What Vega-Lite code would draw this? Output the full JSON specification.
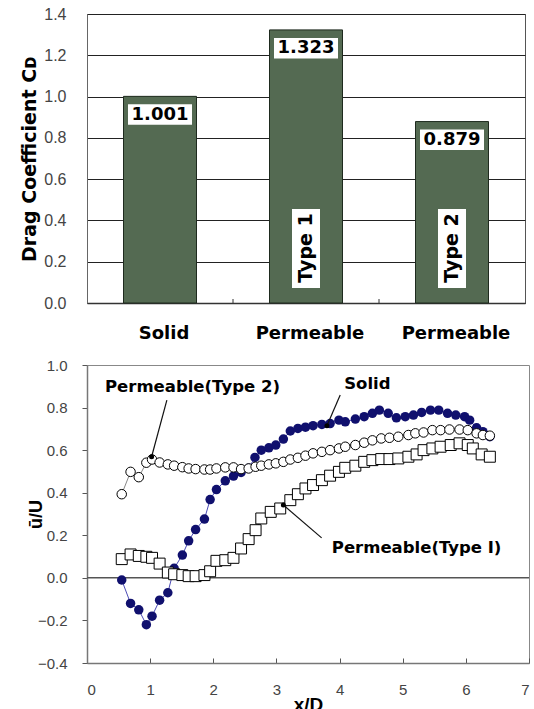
{
  "$schema": "https://vega.github.io/schema/vega-lite/v6.json",
  "padding": {"left": 20, "top": 5, "right": 0, "bottom": 0},
  "background": "white",
  "config": {"font": "Liberation Sans"},
  "spacing": 14,
  "datasets": {
    "bars": [
      {"cat": "Solid", "value": 1.001, "label": "1.001", "type": null},
      {"cat": "Permeable 1", "value": 1.323, "label": "1.323", "type": "Type 1"},
      {"cat": "Permeable 2", "value": 0.879, "label": "0.879", "type": "Type 2"}
    ],
    "solid": [
      {"x": 0.55, "y": -0.01}, {"x": 0.69, "y": -0.12}, {"x": 0.82, "y": -0.15}, {"x": 0.94, "y": -0.22},
      {"x": 1.03, "y": -0.18}, {"x": 1.15, "y": -0.105}, {"x": 1.28, "y": -0.07}, {"x": 1.38, "y": 0.045},
      {"x": 1.51, "y": 0.107}, {"x": 1.61, "y": 0.174}, {"x": 1.72, "y": 0.227}, {"x": 1.86, "y": 0.276},
      {"x": 1.95, "y": 0.368}, {"x": 2.05, "y": 0.415}, {"x": 2.19, "y": 0.456}, {"x": 2.32, "y": 0.478},
      {"x": 2.44, "y": 0.495}, {"x": 2.56, "y": 0.515}, {"x": 2.66, "y": 0.566}, {"x": 2.76, "y": 0.6},
      {"x": 2.88, "y": 0.611}, {"x": 2.99, "y": 0.624}, {"x": 3.11, "y": 0.652}, {"x": 3.22, "y": 0.69},
      {"x": 3.34, "y": 0.702}, {"x": 3.46, "y": 0.708}, {"x": 3.58, "y": 0.715}, {"x": 3.72, "y": 0.721},
      {"x": 3.85, "y": 0.725}, {"x": 3.99, "y": 0.741}, {"x": 4.09, "y": 0.733}, {"x": 4.25, "y": 0.746},
      {"x": 4.39, "y": 0.757}, {"x": 4.52, "y": 0.773}, {"x": 4.63, "y": 0.788}, {"x": 4.77, "y": 0.773},
      {"x": 4.9, "y": 0.752}, {"x": 5.04, "y": 0.757}, {"x": 5.17, "y": 0.765}, {"x": 5.3, "y": 0.777},
      {"x": 5.44, "y": 0.788}, {"x": 5.57, "y": 0.788}, {"x": 5.71, "y": 0.773}, {"x": 5.84, "y": 0.765},
      {"x": 5.98, "y": 0.757}, {"x": 6.06, "y": 0.741}, {"x": 6.17, "y": 0.705}, {"x": 6.27, "y": 0.687},
      {"x": 6.38, "y": 0.663}
    ],
    "type1": [
      {"x": 0.55, "y": 0.088}, {"x": 0.69, "y": 0.11}, {"x": 0.82, "y": 0.103}, {"x": 0.94, "y": 0.099},
      {"x": 1.03, "y": 0.094}, {"x": 1.15, "y": 0.067}, {"x": 1.28, "y": 0.025}, {"x": 1.38, "y": 0.017},
      {"x": 1.51, "y": 0.013}, {"x": 1.61, "y": 0.008}, {"x": 1.72, "y": 0.008}, {"x": 1.86, "y": 0.013},
      {"x": 1.95, "y": 0.031}, {"x": 2.05, "y": 0.08}, {"x": 2.19, "y": 0.083}, {"x": 2.32, "y": 0.094},
      {"x": 2.44, "y": 0.138}, {"x": 2.56, "y": 0.182}, {"x": 2.67, "y": 0.224}, {"x": 2.76, "y": 0.279},
      {"x": 2.91, "y": 0.31}, {"x": 3.06, "y": 0.326}, {"x": 3.22, "y": 0.365}, {"x": 3.34, "y": 0.393},
      {"x": 3.46, "y": 0.42}, {"x": 3.58, "y": 0.436}, {"x": 3.72, "y": 0.459}, {"x": 3.85, "y": 0.48},
      {"x": 3.99, "y": 0.498}, {"x": 4.09, "y": 0.517}, {"x": 4.25, "y": 0.527}, {"x": 4.39, "y": 0.545},
      {"x": 4.52, "y": 0.553}, {"x": 4.66, "y": 0.558}, {"x": 4.79, "y": 0.558}, {"x": 4.93, "y": 0.561},
      {"x": 5.09, "y": 0.569}, {"x": 5.22, "y": 0.58}, {"x": 5.33, "y": 0.6}, {"x": 5.47, "y": 0.608},
      {"x": 5.6, "y": 0.616}, {"x": 5.76, "y": 0.624}, {"x": 5.9, "y": 0.632}, {"x": 6.03, "y": 0.624},
      {"x": 6.11, "y": 0.608}, {"x": 6.25, "y": 0.58}, {"x": 6.38, "y": 0.569}
    ],
    "type2": [
      {"x": 0.55, "y": 0.393}, {"x": 0.69, "y": 0.498}, {"x": 0.82, "y": 0.473}, {"x": 0.94, "y": 0.541},
      {"x": 1.03, "y": 0.556}, {"x": 1.15, "y": 0.542}, {"x": 1.28, "y": 0.533}, {"x": 1.38, "y": 0.527},
      {"x": 1.51, "y": 0.52}, {"x": 1.61, "y": 0.514}, {"x": 1.72, "y": 0.511}, {"x": 1.86, "y": 0.509},
      {"x": 1.95, "y": 0.509}, {"x": 2.05, "y": 0.514}, {"x": 2.19, "y": 0.519}, {"x": 2.32, "y": 0.519},
      {"x": 2.44, "y": 0.511}, {"x": 2.56, "y": 0.514}, {"x": 2.67, "y": 0.522}, {"x": 2.76, "y": 0.527},
      {"x": 2.88, "y": 0.533}, {"x": 2.99, "y": 0.538}, {"x": 3.11, "y": 0.545}, {"x": 3.22, "y": 0.556},
      {"x": 3.34, "y": 0.564}, {"x": 3.46, "y": 0.574}, {"x": 3.58, "y": 0.585}, {"x": 3.72, "y": 0.592},
      {"x": 3.85, "y": 0.6}, {"x": 3.99, "y": 0.608}, {"x": 4.09, "y": 0.616}, {"x": 4.25, "y": 0.624},
      {"x": 4.39, "y": 0.635}, {"x": 4.52, "y": 0.646}, {"x": 4.66, "y": 0.655}, {"x": 4.79, "y": 0.658},
      {"x": 4.93, "y": 0.663}, {"x": 5.09, "y": 0.671}, {"x": 5.2, "y": 0.679}, {"x": 5.33, "y": 0.683},
      {"x": 5.47, "y": 0.694}, {"x": 5.6, "y": 0.694}, {"x": 5.74, "y": 0.697}, {"x": 5.9, "y": 0.697},
      {"x": 6.03, "y": 0.694}, {"x": 6.17, "y": 0.679}, {"x": 6.27, "y": 0.671}, {"x": 6.38, "y": 0.668}
    ],
    "leaders": [
      {"x": 1.023, "y": 0.569, "x2": 1.265, "y2": 0.835},
      {"x": 3.8, "y": 0.715, "x2": 4.01, "y2": 0.859},
      {"x": 3.11, "y": 0.342, "x2": 3.716, "y2": 0.188}
    ],
    "notes": [
      {"x": 1.67, "y": 0.898, "text": "Permeable(Type 2)"},
      {"x": 4.44, "y": 0.912, "text": "Solid"},
      {"x": 5.22, "y": 0.138, "text": "Permeable(Type I)"}
    ],
    "zero": [{"x": 0, "x2": 7, "y": 0}]
  },
  "vconcat": [
    {
      "width": 438,
      "height": 289,
      "view": {"stroke": "#555", "strokeWidth": 1},
      "data": {"name": "bars"},
      "encoding": {
        "x": {
          "field": "cat", "type": "nominal", "sort": null, "title": null,
          "scale": {"paddingInner": 0.5, "paddingOuter": 0.25},
          "axis": {
            "labelAngle": 0,
            "labelExpr": "datum.value == 'Solid' ? 'Solid' : 'Permeable'",
            "labelFont": "DejaVu Sans", "labelFontWeight": "bold", "labelFontSize": 18,
            "labelColor": "#000", "labelPadding": 21, "labelOffset": 4,
            "ticks": false,
            "domainColor": "#333", "domainWidth": 1.5, "grid": false
          }
        },
        "y": {
          "field": "value", "type": "quantitative", "title": "Drag Coefficient Cᴅ",
          "scale": {"domain": [0, 1.4], "nice": false},
          "axis": {
            "values": [0, 0.2, 0.4, 0.6, 0.8, 1.0, 1.2, 1.4], "format": ".1f",
            "ticks": false, "labelPadding": 21, "labelFontSize": 16, "labelColor": "#444",
            "domainColor": "#666", "gridColor": "#222", "gridWidth": 1,
            "titleFont": "DejaVu Sans", "titleFontSize": 19, "titleFontWeight": "bold",
            "titleColor": "#000", "titlePadding": 4
          }
        }
      },
      "layer": [
        {"mark": {"type": "bar", "color": "#546a52", "stroke": "#1e2a1e", "strokeWidth": 1}},
        {"mark": {"type": "bar", "color": "white", "width": 64, "yOffset": 8, "y2Offset": 28.5},
         "encoding": {"y2": {"field": "value"}}},
        {"mark": {"type": "text", "font": "DejaVu Sans", "fontWeight": "bold", "fontSize": 18,
                  "color": "black", "baseline": "middle", "align": "center", "yOffset": 18.5},
         "encoding": {"text": {"field": "label"}}},
        {"transform": [{"filter": "isValid(datum.type)"}],
         "mark": {"type": "bar", "color": "white", "width": 28, "yOffset": -15, "y2Offset": -94},
         "encoding": {"y": {"datum": 0}, "y2": {"datum": 0}}},
        {"transform": [{"filter": "isValid(datum.type)"}],
         "mark": {"type": "text", "angle": 270, "font": "DejaVu Sans", "fontWeight": "bold", "fontSize": 19,
                  "color": "black", "baseline": "middle", "align": "center", "yOffset": -55},
         "encoding": {"y": {"datum": 0}, "text": {"field": "type"}}},
        {"transform": [{"filter": "isValid(datum.type)"}],
         "mark": {"type": "rule", "color": "#333", "strokeWidth": 1, "y2Offset": -4},
         "encoding": {"x": {"field": "cat", "type": "nominal", "sort": null, "bandPosition": -0.5}, "y": {"datum": 0}, "y2": {"datum": 0}}}
      ]
    },
    {
      "width": 442,
      "height": 298,
      "view": {"stroke": "#888", "strokeWidth": 1},
      "encoding": {
        "x": {
          "field": "x", "type": "quantitative", "title": "x/D",
          "scale": {"domain": [0, 7], "nice": false},
          "axis": {
            "values": [0, 1, 2, 3, 4, 5, 6, 7], "format": "d", "grid": false,
            "tickSize": -5, "tickColor": "#555", "domainColor": "#777", "domainWidth": 1.5,
            "labelFontSize": 15, "labelColor": "#444", "labelPadding": 24,
            "titleFont": "Liberation Sans", "titleFontSize": 19, "titleFontWeight": "bold",
            "titleColor": "#000", "titlePadding": -2
          }
        },
        "y": {
          "field": "y", "type": "quantitative", "title": "ū/U",
          "scale": {"domain": [-0.4, 1.0], "nice": false},
          "axis": {
            "values": [-0.4, -0.2, 0, 0.2, 0.4, 0.6, 0.8, 1.0], "format": ".1f", "grid": false,
            "tickSize": 5, "tickColor": "#555", "domainColor": "#777", "domainWidth": 1.5,
            "labelFontSize": 15, "labelColor": "#444", "labelPadding": 15,
            "titleFont": "Liberation Sans", "titleFontSize": 18, "titleFontWeight": "bold",
            "titleColor": "#000", "titlePadding": -8
          }
        }
      },
      "layer": [
        {"data": {"name": "zero"}, "mark": {"type": "rule", "color": "#555", "strokeWidth": 1.5},
         "encoding": {"x2": {"field": "x2"}}},
        {"data": {"name": "solid"}, "mark": {"type": "line", "color": "#4b4bb5", "strokeWidth": 1}},
        {"data": {"name": "solid"}, "mark": {"type": "point", "filled": true, "shape": "circle", "size": 90, "color": "#10106e", "opacity": 1}},
        {"data": {"name": "type1"}, "mark": {"type": "line", "color": "#888", "strokeWidth": 1}},
        {"data": {"name": "type1"}, "mark": {"type": "point", "filled": true, "shape": "square", "size": 120, "fill": "white", "stroke": "black", "strokeWidth": 1, "opacity": 1}},
        {"data": {"name": "type2"}, "mark": {"type": "line", "color": "#888", "strokeWidth": 1}},
        {"data": {"name": "type2"}, "mark": {"type": "point", "filled": true, "shape": "circle", "size": 90, "fill": "white", "stroke": "black", "strokeWidth": 1, "opacity": 1}},
        {"data": {"name": "leaders"}, "mark": {"type": "rule", "color": "#111", "strokeWidth": 1.2},
         "encoding": {"x2": {"field": "x2"}, "y2": {"field": "y2"}}},
        {"data": {"name": "leaders"}, "mark": {"type": "point", "filled": true, "shape": "circle", "size": 25, "color": "#000", "opacity": 1}},
        {"data": {"name": "notes"}, "mark": {"type": "text", "font": "DejaVu Sans", "fontWeight": "bold", "fontSize": 16.5, "color": "#000", "baseline": "middle", "align": "center"},
         "encoding": {"text": {"field": "text"}}}
      ]
    }
  ]
}
